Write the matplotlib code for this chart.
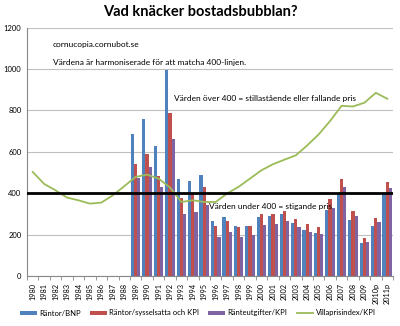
import matplotlib
matplotlib.use("Agg")
import matplotlib.pyplot as plt
import numpy as np

plt.rcParams['font.family'] = ['Lato', 'DejaVu Sans']

years = [str(y) for y in range(1980, 2010)] + ["2010p", "2011p"]

rantor_bnp = [0]*9 + [688, 760, 627, 993, 467, 460, 487, 267, 283, 241, 241,
                      287, 289, 299, 257, 225, 207, 318, 399, 270, 161, 244, 400]
rantor_syss = [0]*9 + [540, 588, 485, 787, 377, 399, 430, 243, 268, 238, 244,
                       299, 299, 315, 276, 254, 235, 370, 471, 315, 182, 280, 452]
ranteutg = [0]*9 + [472, 527, 429, 662, 302, 310, 344, 190, 211, 188, 198,
                    247, 254, 267, 235, 212, 204, 328, 428, 289, 165, 259, 424]
villapris = [503, 445, 414, 379, 366, 350, 355, 390, 434, 479, 490, 471, 428, 358,
             366, 358, 358, 399, 431, 471, 511, 540, 562, 583, 631, 684, 749, 822,
             819, 837, 885, 856]

fig = plt.figure(figsize=(4.0, 3.26), dpi=100)
ax = fig.add_axes([0.0675, 0.153, 0.915, 0.7625])

x = np.arange(len(years))
w = 0.28
b1 = ax.bar(x - w, rantor_bnp, width=w, color='#4F81BD', label='Räntor/BNP', zorder=2)
b2 = ax.bar(x, rantor_syss, width=w, color='#C0504D', label='Räntor/sysselsatta och KPI', zorder=2)
b3 = ax.bar(x + w, ranteutg, width=w, color='#8064A2', label='Ränteutgifter/KPI', zorder=2)
l1, = ax.plot(x, villapris, color='#9BBB59', lw=1.3, label='Villaprisindex/KPI', zorder=3)
ax.axhline(400, color='black', lw=2, zorder=4)

ax.set_xlim(-0.5, len(years) - 0.5)
ax.set_ylim(0, 1200)
ax.set_yticks(range(0, 1201, 200))
ax.yaxis.grid(True, color='#BFBFBF', lw=0.8, zorder=0)
ax.set_axisbelow(True)
ax.tick_params(axis='y', labelsize=5.5, length=0, pad=4)
ax.set_xticks(x)
ax.set_xticklabels(years, rotation=90, fontsize=5.3)
ax.set_xticks(np.arange(-0.5, len(years), 1), minor=True)
ax.tick_params(axis='x', which='major', length=0, pad=5)
ax.tick_params(axis='x', which='minor', length=3, color='#888888')
for s in ['top', 'right']:
    ax.spines[s].set_visible(False)
ax.spines['left'].set_color('#888888')
ax.spines['bottom'].set_color('#888888')

fig.text(0.5, 0.962, 'Vad knäcker bostadsbubblan?', ha='center', va='center',
         fontsize=10.5, fontweight='bold')
fig.text(53/400, 1-44/326, 'cornucopia.cornubot.se', fontsize=6, va='center')
fig.text(53/400, 1-63/326, 'Värdena är harmoniserade för att matcha 400-linjen.', fontsize=6, va='center')
fig.text(174/400, 1-98/326, 'Värden över 400 = stillastående eller fallande pris', fontsize=6, va='center')
fig.text(209/400, 1-206/326, 'Värden under 400 = stigande pris', fontsize=6, va='center')

fig.legend([b1, b2, b3, l1],
           ['Räntor/BNP', 'Räntor/sysselsatta och KPI', 'Ränteutgifter/KPI', 'Villaprisindex/KPI'],
           loc='center', bbox_to_anchor=(0.495, 1-313/326), ncol=4, fontsize=5.5,
           frameon=False, handlelength=2.2, handleheight=0.4, columnspacing=1.2,
           handletextpad=0.3)

fig.savefig('out.png', dpi=100)
